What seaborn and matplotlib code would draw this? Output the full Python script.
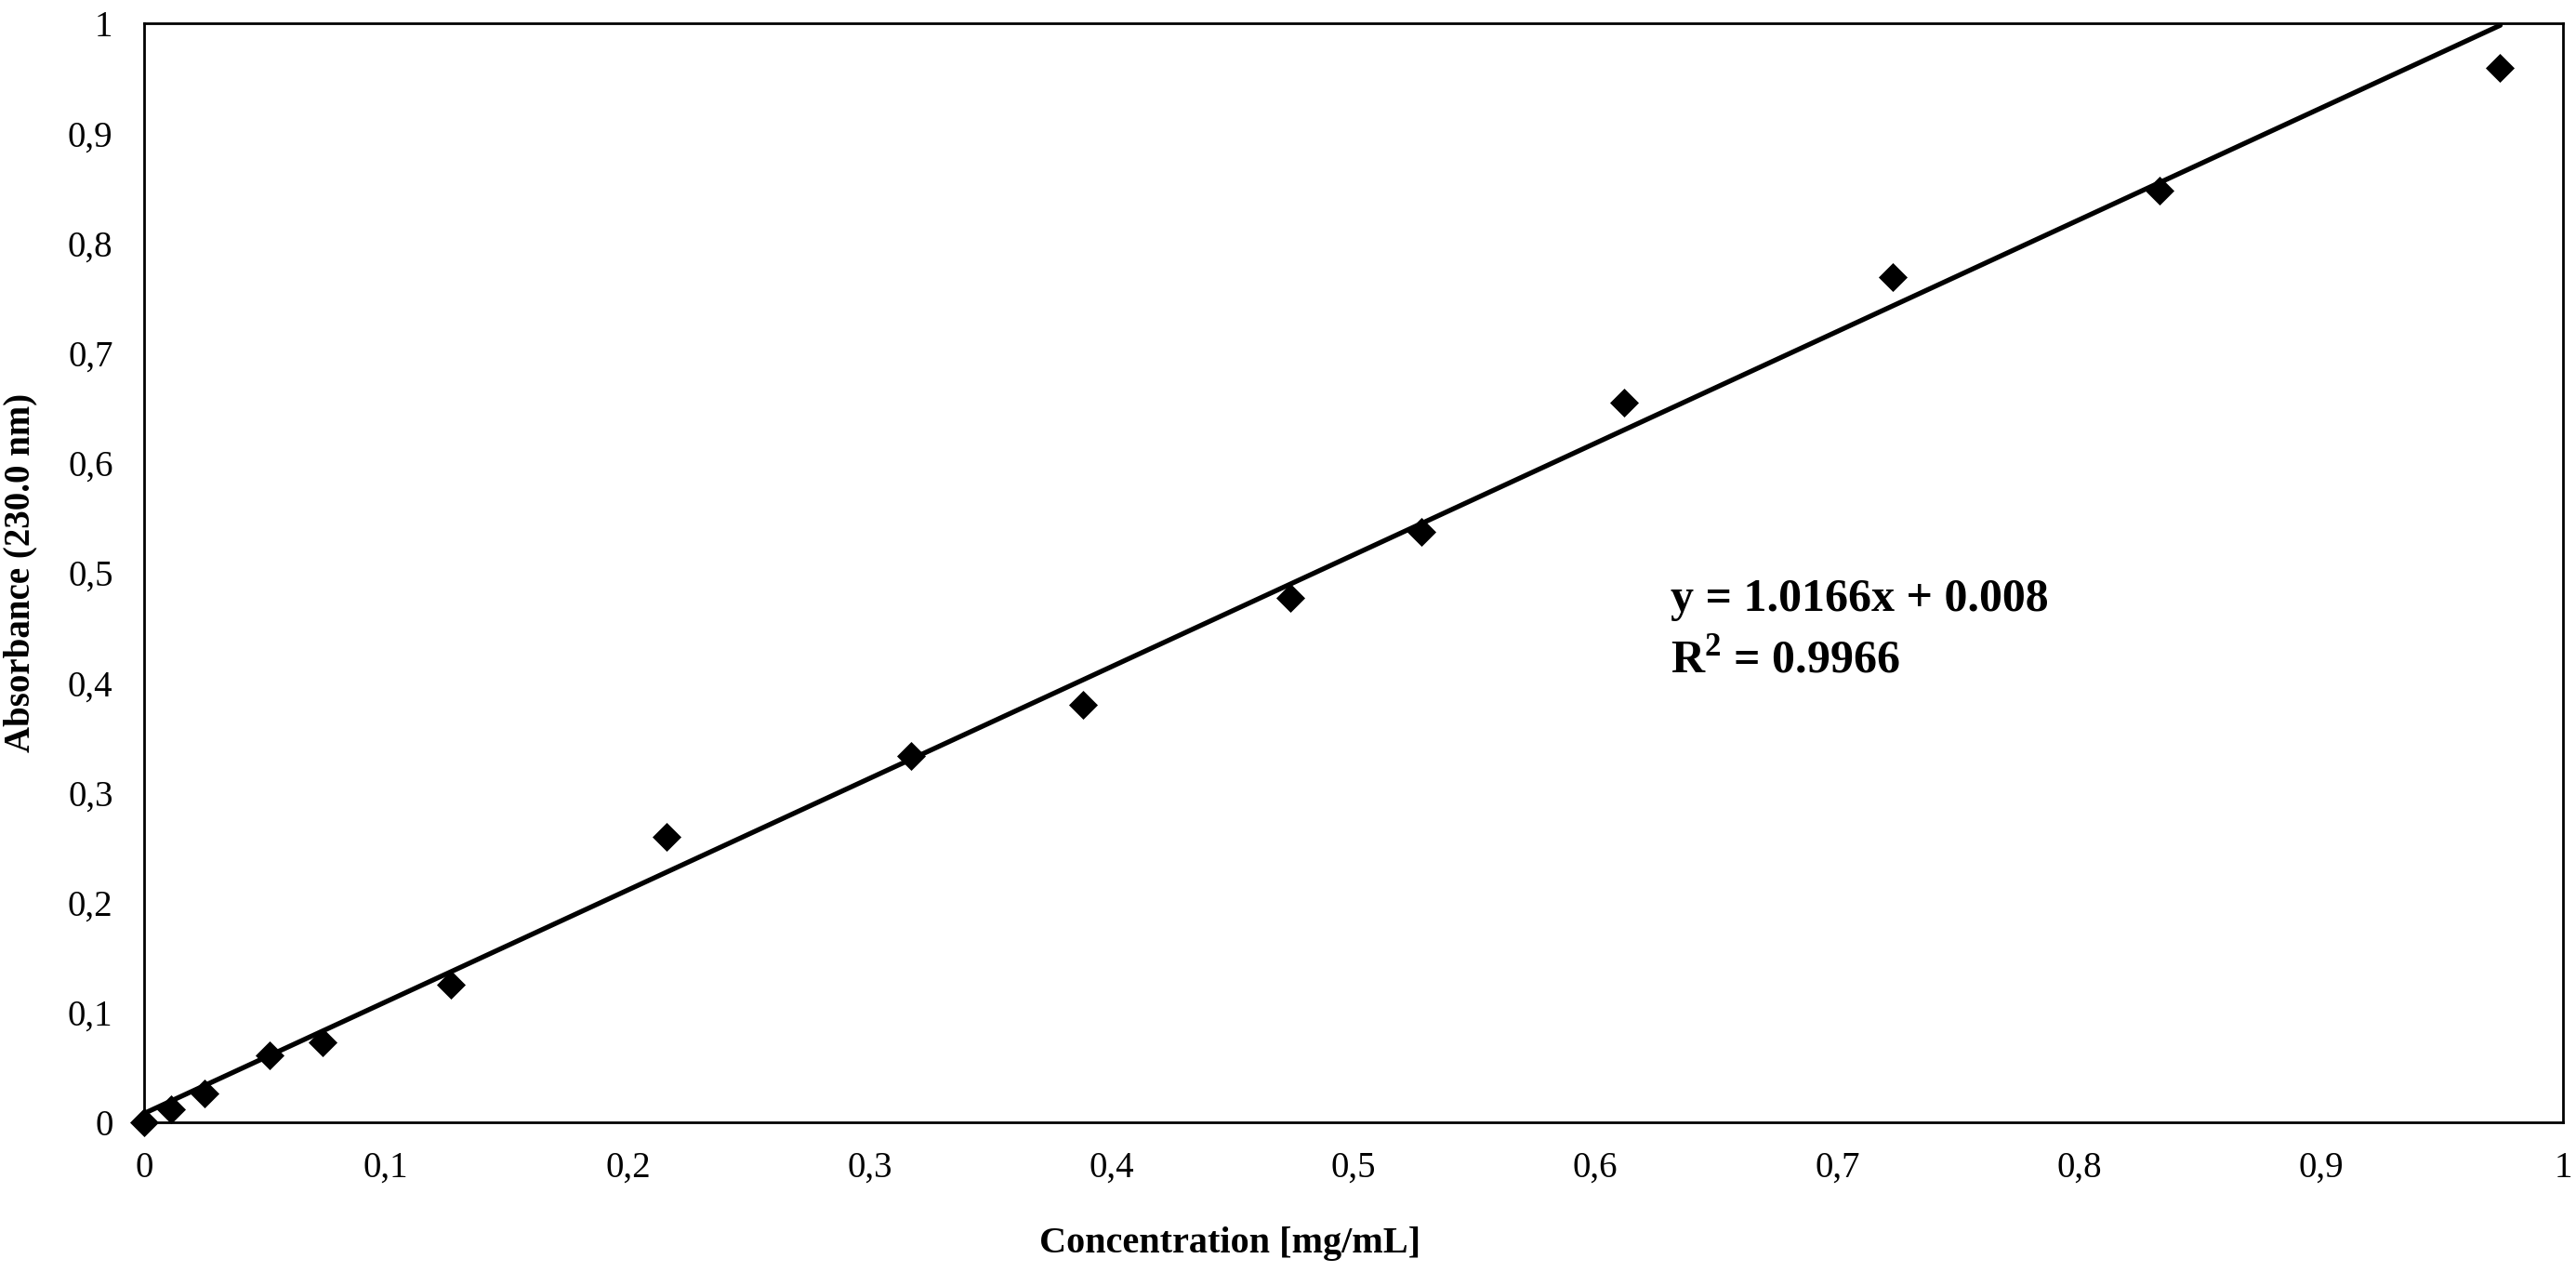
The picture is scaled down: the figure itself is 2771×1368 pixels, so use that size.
import matplotlib
matplotlib.use("Agg")
import matplotlib.pyplot as plt
from matplotlib.ticker import FuncFormatter, MultipleLocator
import numpy as np
import pandas as pd
import seaborn as sns

# ---- data ----
concentration = [0.0, 0.011, 0.025, 0.052, 0.074, 0.127, 0.216, 0.317, 0.388, 0.474, 0.528, 0.612, 0.723, 0.833, 0.974]
absorbance = [0.0, 0.012, 0.026, 0.061, 0.073, 0.125, 0.260, 0.333, 0.380, 0.477, 0.537, 0.655, 0.769, 0.848, 0.959]
slope = 1.0166
intercept = 0.008
eq_text = "y = 1.0166x + 0.008"
r2_text = "R$^{2}$ = 0.9966"
x_label = "Concentration [mg/mL]"
y_label = "Absorbance (230.0 nm)"

df = pd.DataFrame({"conc": concentration, "abs": absorbance})
fit_x = [min(concentration), max(concentration)]
fit_df = pd.DataFrame({"conc": fit_x, "abs": [slope * v + intercept for v in fit_x]})

sns.set_theme(style="white")
plt.rcParams["font.family"] = ["Liberation Serif", "DejaVu Serif"]
plt.rcParams["mathtext.fontset"] = "custom"
plt.rcParams["mathtext.rm"] = "Liberation Serif:bold"
plt.rcParams["mathtext.bf"] = "Liberation Serif:bold"

fig = plt.figure(figsize=(27.71, 13.68), dpi=100)
ax = fig.add_axes([0.0559, 0.1177, 0.9391, 0.864])

sns.lineplot(data=fit_df, x="conc", y="abs", color="black", linewidth=3.8, ax=ax)
sns.scatterplot(data=df, x="conc", y="abs", marker="D", color="black", s=250,
                edgecolor="black", linewidth=0, ax=ax, zorder=3, clip_on=False)

ax.set_xlim(0, 1)
ax.set_ylim(0, 1)
ax.xaxis.set_major_locator(MultipleLocator(0.1))
ax.yaxis.set_major_locator(MultipleLocator(0.1))

def fmt(v, pos):
    s = f"{v:.1f}"
    if s.endswith(".0"):
        s = s[:-2]
    return s.replace(".", ",")

ax.xaxis.set_major_formatter(FuncFormatter(fmt))
ax.yaxis.set_major_formatter(FuncFormatter(fmt))
ax.tick_params(axis="both", length=0, labelsize=28, colors="black")
ax.tick_params(axis="x", pad=22)
ax.tick_params(axis="y", pad=24)

for sp in ax.spines.values():
    sp.set_visible(True)
    sp.set_color("black")
    sp.set_linewidth(2.0)

ax.set_xlabel(x_label, fontsize=29, fontweight="bold", color="black")
ax.set_ylabel(y_label, fontsize=28, fontweight="bold", color="black")
ax.xaxis.set_label_coords(0.449, -0.095)
ax.yaxis.set_label_coords(-0.044, 0.5)

ax.text(0.631, 0.465, eq_text, fontsize=36, fontweight="bold", color="black",
        ha="left", va="baseline", transform=ax.transData)
ax.text(0.631, 0.409, r2_text, fontsize=36, fontweight="bold", color="black",
        ha="left", va="baseline", transform=ax.transData)

fig.savefig("out.png", dpi=100, facecolor="white")
